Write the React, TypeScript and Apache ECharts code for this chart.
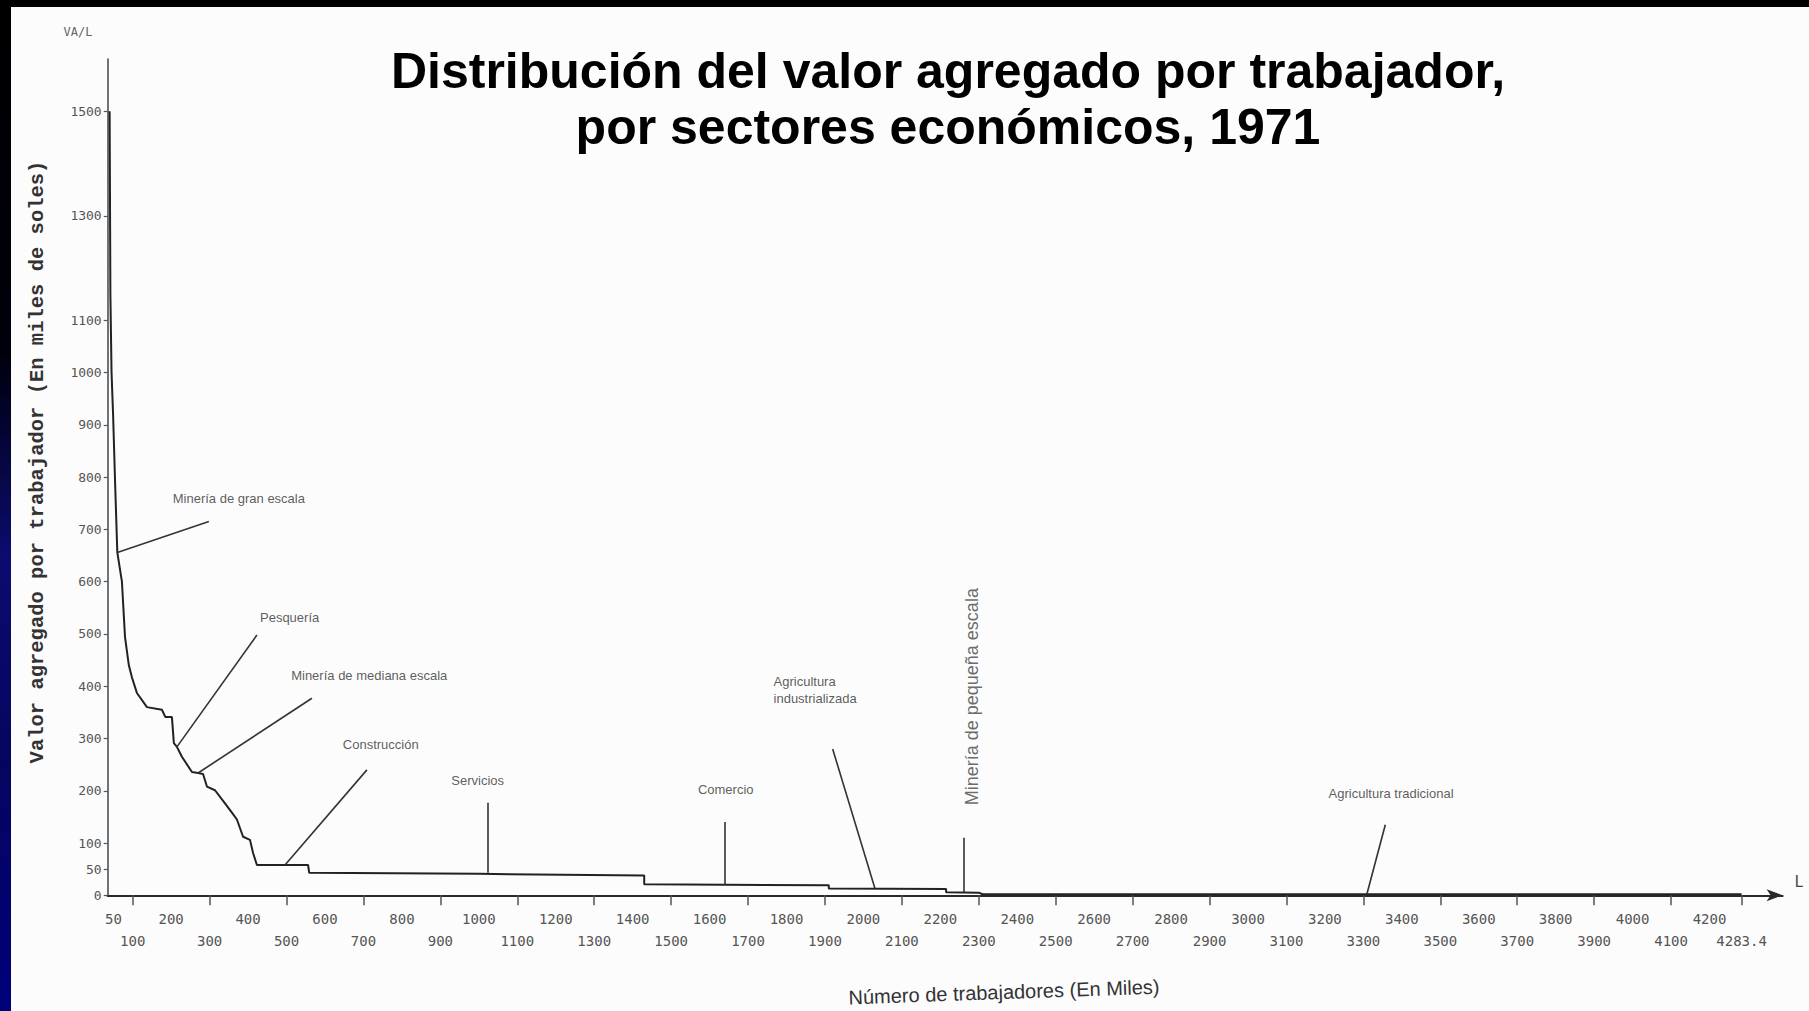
import React, { useEffect, useRef } from "react";
import * as echarts from "echarts";

// Curve: cumulative workers (thousands) vs value added per worker (thousand soles)
const workers = [40, 42, 45, 49, 54, 60, 72, 80, 90, 98, 111, 137, 176, 185, 202, 207, 215, 228, 254, 270, 283, 293, 314, 340, 358, 371, 387, 405, 413, 423, 556, 559, 1000, 1430, 1430, 1910, 1910, 2215, 2215, 2300, 2310, 4283.4];
const valueAdded = [1500, 1150, 1000, 920, 795, 656, 600, 494, 440, 417, 387, 360, 355, 341, 341, 291, 284, 265, 236, 234, 232, 208, 201, 176, 158, 145, 112, 106, 81, 58, 58, 43, 41, 38, 21, 19, 13, 12, 6, 5, 2, 2];

// Sector annotations
const sectorNames = [
  "Minería de gran escala",
  "Pesquería",
  "Minería de mediana escala",
  "Construcción",
  "Servicios",
  "Comercio",
  "Agricultura\nindustrializada",
  "Minería de pequeña escala",
  "Agricultura tradicional",
];
const labelX = [376, 508, 715, 745, 997, 1642, 1765, 2283, 3372];
const labelY = [759, 532, 420, 289, 219, 203, 393, 380, 194];
const pointerFromX = [60, 215, 270, 496, 1024, 1640, 2030, 2262, 3309];
const pointerFromY = [656, 284, 234, 58, 43, 20, 13, 6, 2];
const pointerToX = [298, 423, 566, 709, 1024, 1640, 1920, 2262, 3357];
const pointerToY = [715, 498, 377, 240, 177, 140, 280, 110, 135];

// Axis tick labels
const xLabelsTop = [50, 200, 400, 600, 800, 1000, 1200, 1400, 1600, 1800, 2000, 2200, 2400, 2600, 2800, 3000, 3200, 3400, 3600, 3800, 4000, 4200];
const xLabelsBottom = [100, 300, 500, 700, 900, 1100, 1300, 1500, 1700, 1900, 2100, 2300, 2500, 2700, 2900, 3100, 3300, 3500, 3700, 3900, 4100, 4283.4];
const yLabels = [0, 50, 100, 200, 300, 400, 500, 600, 700, 800, 900, 1000, 1100, 1300, 1500];

const X_MIN = 35;
const X_MAX = 4390;
const Y_MIN = 0;
const Y_MAX = 1600;

const MONO = "'DejaVu Sans Mono', 'Liberation Mono', monospace";
const SANS = "'Liberation Sans', Arial, sans-serif";

export default function App() {
  const ref = useRef<HTMLDivElement>(null);

  useEffect(() => {
    if (!ref.current) return;
    const chart = echarts.init(ref.current, undefined, { renderer: "svg" });

    const curve = workers.map((w, i) => [w, valueAdded[i]]);
    const pointers = pointerFromX.map((x, i) => [
      { coord: [x, pointerFromY[i]] },
      { coord: [pointerToX[i], pointerToY[i]] },
    ]);
    const labels = sectorNames.map((name, i) => {
      const item: any = { name, value: [labelX[i], labelY[i]] };
      if (i === 6) {
        item.label = { position: "right", distance: 0, align: "left", lineHeight: 17 };
      }
      if (i === 7) {
        item.label = { rotate: 90, fontSize: 18, color: "#444" };
      }
      return item;
    });

    const labelFmt = (v: number) => String(v);

    const option: any = {
      animation: false,
      backgroundColor: "transparent",
      grid: {
        left: 107.7,
        right: 26.4,
        top: 59,
        bottom: 115.7,
        containLabel: false,
        outerBoundsMode: "none",
      },
      xAxis: [
        {
          type: "value",
          min: X_MIN,
          max: X_MAX,
          position: "bottom",
          axisLine: {
            show: true,
            symbol: ["none", "arrow"],
            symbolSize: [9, 16],
            lineStyle: { color: "#2a2a2a", width: 2.2 },
          },
          axisTick: {
            show: true,
            customValues: xLabelsBottom,
            length: 10,
            lineStyle: { color: "#555", width: 1.5 },
          },
          axisLabel: {
            customValues: xLabelsTop,
            margin: 17,
            fontFamily: MONO,
            fontSize: 14,
            color: "#555",
            formatter: labelFmt,
          },
          splitLine: { show: false },
        },
        {
          type: "value",
          min: X_MIN,
          max: X_MAX,
          position: "bottom",
          axisLine: { show: false },
          axisTick: { show: false },
          axisLabel: {
            customValues: xLabelsBottom,
            margin: 39,
            fontFamily: MONO,
            fontSize: 14,
            color: "#555",
            formatter: labelFmt,
          },
          splitLine: { show: false },
        },
      ],
      yAxis: {
        type: "value",
        min: Y_MIN,
        max: Y_MAX,
        axisLine: { show: true, lineStyle: { color: "#444", width: 1.5 } },
        axisTick: {
          show: true,
          customValues: yLabels,
          length: 4,
          lineStyle: { color: "#555", width: 1.2 },
        },
        axisLabel: {
          customValues: yLabels,
          margin: 6,
          fontFamily: MONO,
          fontSize: 13,
          color: "#555",
          formatter: labelFmt,
        },
        splitLine: { show: false },
      },
      series: [
        {
          type: "line",
          name: "Valor agregado por trabajador",
          data: curve,
          showSymbol: false,
          lineStyle: { color: "#222", width: 2 },
          z: 3,
          markLine: {
            silent: true,
            symbol: ["none", "none"],
            label: { show: false },
            lineStyle: { type: "solid", color: "#333", width: 1.6 },
            data: pointers,
          },
        },
        {
          type: "scatter",
          name: "Sectores",
          data: labels,
          symbolSize: 1,
          itemStyle: { color: "rgba(0,0,0,0)" },
          silent: true,
          label: {
            show: true,
            position: "inside",
            formatter: "{b}",
            fontFamily: SANS,
            fontSize: 13,
            color: "#333",
          },
        },
      ],
      graphic: [
        {
          type: "text",
          x: 948,
          y: 71,
          style: {
            text: "Distribución del valor agregado por trabajador,",
            fontFamily: SANS,
            fontWeight: "bold",
            fontSize: 50,
            fill: "#000",
            textAlign: "center",
            textVerticalAlign: "middle",
          },
        },
        {
          type: "text",
          x: 948,
          y: 127,
          style: {
            text: "por sectores económicos, 1971",
            fontFamily: SANS,
            fontWeight: "bold",
            fontSize: 50,
            fill: "#000",
            textAlign: "center",
            textVerticalAlign: "middle",
          },
        },
        {
          type: "text",
          x: 37,
          y: 462,
          rotation: Math.PI / 2,
          style: {
            text: "Valor agregado por trabajador (En miles de soles)",
            fontFamily: "'Liberation Mono', 'DejaVu Sans Mono', monospace",
            fontWeight: "bold",
            fontSize: 20.5,
            fill: "#333",
            textAlign: "center",
            textVerticalAlign: "middle",
          },
        },
        {
          type: "text",
          x: 78,
          y: 32,
          style: {
            text: "VA/L",
            fontFamily: MONO,
            fontSize: 12,
            fill: "#666",
            textAlign: "center",
            textVerticalAlign: "middle",
          },
        },
        {
          type: "text",
          x: 1799,
          y: 882,
          style: {
            text: "L",
            fontFamily: MONO,
            fontSize: 15,
            fill: "#444",
            textAlign: "center",
            textVerticalAlign: "middle",
          },
        },
        {
          type: "text",
          x: 1004,
          y: 992,
          rotation: 0.035,
          style: {
            text: "Número de trabajadores (En Miles)",
            fontFamily: SANS,
            fontSize: 20,
            fill: "#333",
            textAlign: "center",
            textVerticalAlign: "middle",
          },
        },
      ],
    };

    chart.setOption(option);
    return () => chart.dispose();
  }, []);

  return (
    <div
      style={{
        position: "fixed",
        left: 0,
        top: 0,
        width: 1809,
        height: 1011,
        background:
          "linear-gradient(to bottom, #000 0%, #00000c 35%, #0b0b70 55%, #050560 75%, #00007a 100%)",
        overflow: "hidden",
      }}
    >
      <div
        style={{
          position: "absolute",
          left: 11,
          top: 7,
          right: 0,
          bottom: 0,
          background: "#fcfcfc",
        }}
      />
      <div
        ref={ref}
        style={{ position: "absolute", left: 0, top: 0, width: 1809, height: 1011 }}
      />
    </div>
  );
}
